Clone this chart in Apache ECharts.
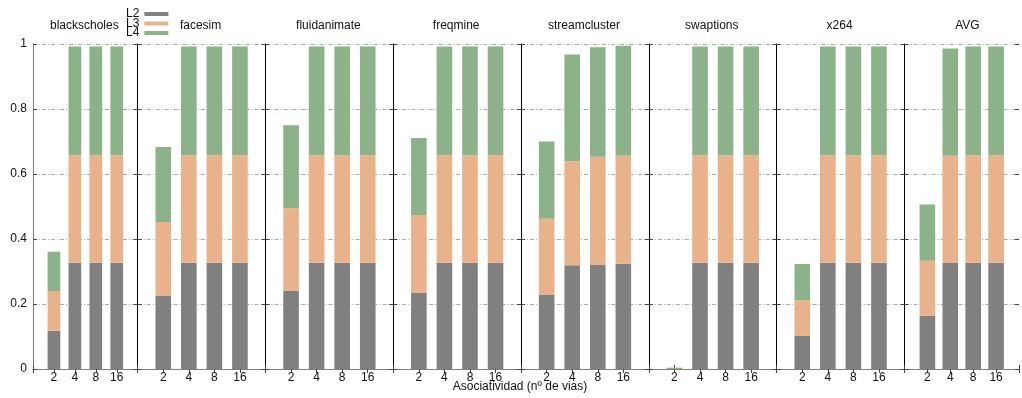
<!DOCTYPE html>
<html>
<head>
<meta charset="utf-8">
<script src="https://cdn.jsdelivr.net/npm/echarts@6/dist/echarts.min.js"></script>
<style>
  html, body { margin: 0; padding: 0; background: #fff; }
  #chart { width: 1022px; height: 398px; }
</style>
</head>
<body>
<div id="chart"></div>
<script>
// benchmarks (one panel each) and associativity per bar
const benchmarks = ['blackscholes', 'facesim', 'fluidanimate', 'freqmine', 'streamcluster', 'swaptions', 'x264', 'AVG'];
const assoc = ['2', '4', '8', '16'];

// stacked pieces, one row per benchmark, one value per associativity
const l2 = [
  [0.118, 0.327, 0.327, 0.327],
  [0.225, 0.327, 0.327, 0.327],
  [0.240, 0.327, 0.327, 0.327],
  [0.234, 0.327, 0.327, 0.327],
  [0.228, 0.319, 0.320, 0.324],
  [0.000, 0.327, 0.327, 0.327],
  [0.102, 0.327, 0.327, 0.327],
  [0.164, 0.326, 0.327, 0.327]
];
const l3 = [
  [0.122, 0.331, 0.331, 0.331],
  [0.227, 0.331, 0.331, 0.331],
  [0.255, 0.331, 0.331, 0.331],
  [0.240, 0.331, 0.331, 0.331],
  [0.234, 0.320, 0.333, 0.332],
  [0.000, 0.331, 0.331, 0.331],
  [0.110, 0.331, 0.331, 0.331],
  [0.169, 0.330, 0.331, 0.331]
];
const l4 = [
  [0.121, 0.334, 0.334, 0.334],
  [0.231, 0.334, 0.334, 0.334],
  [0.255, 0.334, 0.334, 0.334],
  [0.237, 0.334, 0.334, 0.334],
  [0.238, 0.329, 0.337, 0.339],
  [0.004, 0.334, 0.334, 0.334],
  [0.111, 0.334, 0.334, 0.334],
  [0.173, 0.330, 0.334, 0.334]
];

const levels = [
  { name: 'L2', rows: l2, color: '#808080' },
  { name: 'L3', rows: l3, color: '#e8b28a' },
  { name: 'L4', rows: l4, color: '#8cb28a' }
];

const font = "'Liberation Sans', Arial, sans-serif";
// empty slot on each side of the four bars, like gnuplot's xrange
const xCats = [''].concat(assoc, ['']);
const grids = [], xAxes = [], yAxes = [], series = [], titles = [];

benchmarks.forEach((name, i) => {
  const left = i === 0 ? 33 : 137.7 + 127.8 * (i - 1);
  const width = i === 0 ? 104.7 : 127.8;
  grids.push({ left, top: 44, width, height: 325 });

  const xBase = {
    gridIndex: i, type: 'category', data: xCats, boundaryGap: false,
    splitLine: { show: false },
    axisLine: { lineStyle: { color: '#808080' } },
    axisTick: { inside: true, length: 4, lineStyle: { color: '#444' } }
  };
  xAxes.push(Object.assign({}, xBase, {
    position: 'bottom',
    axisLabel: { interval: 0, color: '#111', fontSize: 12, fontFamily: font, margin: 3 }
  }));
  xAxes.push(Object.assign({}, xBase, { position: 'top', axisLabel: { show: false } }));

  yAxes.push({
    gridIndex: i, type: 'value', min: 0, max: 1, interval: 0.2, position: 'left',
    axisLine: { show: true, lineStyle: { color: i === 0 ? '#808080' : '#000' } },
    axisTick: { show: true, inside: true, length: 4, lineStyle: { color: '#444' } },
    axisLabel: { show: i === 0, color: '#111', fontSize: 12, fontFamily: font, margin: 6 },
    splitLine: { show: true, lineStyle: { color: '#aaa', type: [4, 2, 1, 2] } }
  });
  yAxes.push({
    gridIndex: i, type: 'value', min: 0, max: 1, interval: 0.2, position: 'right',
    axisLine: { show: false },
    axisTick: { show: true, inside: true, length: 4, lineStyle: { color: '#444' } },
    axisLabel: { show: false },
    splitLine: { show: false }
  });

  levels.forEach(lv => {
    series.push({
      name: lv.name, type: 'bar', stack: 'p' + i,
      xAxisIndex: 2 * i, yAxisIndex: 2 * i,
      barWidth: i === 0 ? 12.7 : 15.6,
      itemStyle: { color: lv.color },
      data: [null].concat(lv.rows[i], [null])
    });
  });

  titles.push({
    text: name, left: left + width / 2 - 1, top: 20, textAlign: 'center', padding: 0,
    textStyle: { fontSize: 12, fontWeight: 'normal', color: '#111', fontFamily: font }
  });
});

titles.push({
  text: 'Asociatividad (nº de vias)', left: 520, top: 381, textAlign: 'center', padding: 0,
  textStyle: { fontSize: 12, fontWeight: 'normal', color: '#111', fontFamily: font }
});

const chart = echarts.init(document.getElementById('chart'));
chart.setOption({
  animation: false,
  title: titles,
  legend: {
    data: levels.map(l => l.name), orient: 'vertical', left: 126, top: 8,
    align: 'right', icon: 'rect', itemWidth: 24, itemHeight: 4, itemGap: -2.5, padding: 0,
    selectedMode: false,
    textStyle: { fontSize: 12, color: '#111', fontFamily: font }
  },
  grid: grids,
  xAxis: xAxes,
  yAxis: yAxes,
  series
});
</script>
</body>
</html>
